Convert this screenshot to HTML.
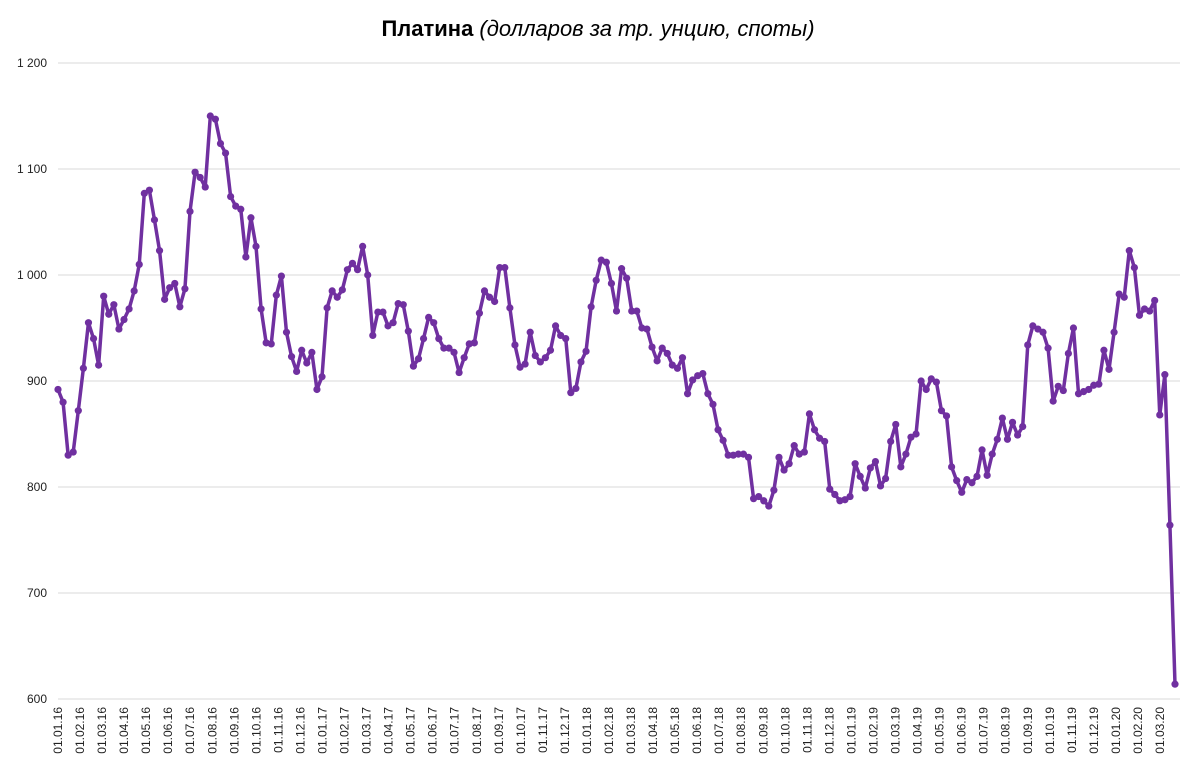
<!DOCTYPE html>
<html><head><meta charset="utf-8"><style>
body{margin:0;background:#fff;}
svg{display:block;font-family:"Liberation Sans","DejaVu Sans",sans-serif;}
</style></head><body>
<svg id="chart" width="1196" height="774">
<text x="598" y="36" text-anchor="middle" font-size="22"><tspan font-weight="bold">Платина</tspan><tspan font-style="italic"> (долларов за тр. унцию, споты)</tspan></text>
<g id="grid"></g><g id="yt"></g><g id="xt"></g><g id="series"></g>
</svg>
<script>
const yTicks=[600,700,800,900,1000,1100,1200];
const yTickLabels=["600","700","800","900","1 000","1 100","1 200"];
const monthLabels=[];
for(let y=16;y<=20;y++)for(let m=1;m<=12;m++){if(y===20&&m>3)break;monthLabels.push("01."+String(m).padStart(2,"0")+"."+y);}
const prices=[892,880,830,833,872,912,955,940,915,980,963,972,949,958,968,985,1010,1077,1080,1052,1023,977,988,992,970,987,1060,1097,1092,1083,1150,1147,1124,1115,1074,1065,1062,1017,1054,1027,968,936,935,981,999,946,923,909,929,917,927,892,904,969,985,979,986,1005,1011,1005,1027,1000,943,965,965,952,955,973,972,947,914,921,940,960,955,940,931,931,927,908,922,935,936,964,985,979,975,1007,1007,969,934,913,916,946,924,918,922,929,952,943,940,889,893,918,928,970,995,1014,1012,992,966,1006,997,966,966,950,949,932,919,931,926,915,912,922,888,901,905,907,888,878,854,844,830,830,831,831,828,789,791,787,782,797,828,816,822,839,831,833,869,854,846,843,798,793,787,788,791,822,810,799,818,824,801,808,843,859,819,831,847,850,900,892,902,899,872,867,819,806,795,807,804,810,835,811,831,845,865,845,861,849,857,934,952,949,946,931,881,895,891,926,950,888,890,892,896,897,929,911,946,982,979,1023,1007,962,968,966,976,868,906,764,614];
const NS="http://www.w3.org/2000/svg";
const X0=58,X1=1175,Y0=699,Y1=63;
const yS=v=>Y0-(v-600)/600*(Y0-Y1);
const xS=i=>X0+i*(X1-X0)/(prices.length-1);
const xM=i=>X0+i*22.04;
function mk(t,a,p){const e=document.createElementNS(NS,t);for(const k in a)e.setAttribute(k,a[k]);p.appendChild(e);return e;}
const grid=document.getElementById('grid'),yt=document.getElementById('yt'),xt=document.getElementById('xt'),se=document.getElementById('series');
yTicks.forEach((v,i)=>{
 const l=mk('line',{x1:58,x2:1180,y1:yS(v),y2:yS(v),stroke:'#d9d9d9','stroke-width':1},grid);
 
 
 const t=mk('text',{x:47,y:yS(v)+4,'text-anchor':'end','font-size':12,fill:'#222'},yt);
 t.textContent=yTickLabels[i];
 
 
});
monthLabels.forEach((s,i)=>{
 const x=xM(i)+4;
 const t=mk('text',{x:x,y:707,'text-anchor':'end','font-size':12,fill:'#222',transform:`rotate(-90 ${x} 707)`},xt);
 t.textContent=s;
 
 
});
const pts=prices.map((v,i)=>xS(i).toFixed(2)+','+yS(v).toFixed(2)).join(' ');
const pl=mk('polyline',{points:pts,fill:'none',stroke:'#7030a0','stroke-width':3.5,'stroke-linejoin':'round'},se);


prices.forEach((v,i)=>{
 const c=mk('circle',{cx:xS(i),cy:yS(v),r:3.6,fill:'#7030a0'},se);
 
 
});
</script>
</body></html>
